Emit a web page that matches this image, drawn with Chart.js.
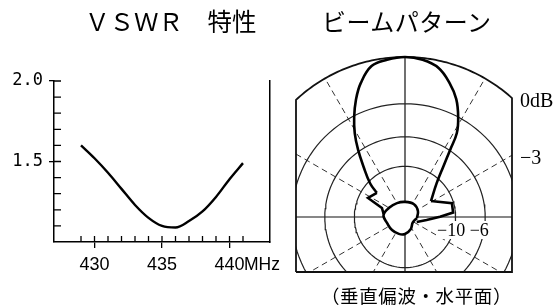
<!DOCTYPE html>
<html>
<head>
<meta charset="utf-8">
<script src="https://cdn.jsdelivr.net/npm/chart.js@4.4.1/dist/chart.umd.min.js"></script>
<style>
  body { margin: 0; background: #fff; width: 558px; height: 307px; overflow: hidden; position: relative; color: #000; }
  canvas { position: absolute; top: 0; }
  .txt { position: absolute; white-space: nowrap; line-height: 1; z-index: 2; }
  .jp { font-family: "Noto Sans CJK JP", sans-serif; }
  .num { font-family: "Liberation Serif", serif; }
</style>
</head>
<body>
<div class="txt jp" style="left:85px; top:9px; font-size:24.5px;">ＶＳＷＲ　特性</div>
<div class="txt jp" style="left:322px; top:9px; font-size:24px; letter-spacing:0.5px;">ビームパターン</div>
<div class="txt jp" style="left:321px; top:286px; font-size:18.5px; letter-spacing:0.6px;">（垂直偏波・水平面）</div>
<div class="txt" style="left:244px; top:256px; font-size:17.5px; font-family:'Liberation Sans', sans-serif;">MHz</div>
<div class="txt num" style="left:520px; top:90px; font-size:20px;">0dB</div>
<div class="txt num" style="left:520px; top:147px; font-size:20px;">−3</div>
<div class="txt num" style="left:436px; top:221px; font-size:18px; background:#fff; padding:0 1px;">−10 −6</div>

<canvas id="vswrChart" width="280" height="307" style="left:0"></canvas>
<canvas id="beamChart" width="278" height="307" style="left:280px"></canvas>

<script>
// VSWR curve
const freqs = [429, 430, 431, 432, 433, 434, 435, 436, 437, 438, 439, 440, 441];
const vswr = [1.60, 1.52, 1.43, 1.33, 1.23, 1.15, 1.10, 1.09, 1.13, 1.19, 1.28, 1.39, 1.49];
const freqLabels = [430, 435, 440];
const vswrLabels = [1.5, 2.0];
const freqMinor = [429, 430, 431, 432, 433, 434, 435, 436, 437, 438, 439, 440, 441];
const vswrMinor = [1.1, 1.2, 1.3, 1.4, 1.5, 1.6, 1.7, 1.8, 1.9, 2.0];

// beam pattern: angle in degrees (0 = front, clockwise), level in dB
const lobeAngle = [-49.4, -46.1, -39.5, -34.9, -31.0, -27.0, -22.7, -18.3, -12.5, -6.5, 0, 6.4, 12.7, 18.5, 23.5, 28.0, 31.7, 33.9, 37.3, 43.2, 58.4];
const lobeDb = [-12.7, -10.4, -7.8, -5.8, -4.3, -3.1, -2.0, -1.1, -0.3, -0.1, 0, -0.1, -0.4, -1.1, -1.9, -3.0, -4.2, -5.9, -8.1, -10.8, -14.4];
const leftSpikeAngle = [-82, -68.6, -62.8, -49.4];
const leftSpikeDb = [-17.4, -16.2, -11.7, -12.7];
const rightSpikeAngle = [58.4, 73.6, 84.7, 89.5, 97.9, 113];
const rightSpikeDb = [-14.4, -10.3, -10.4, -13.2, -17.3, -22.0];
const backAngle = [95, 125, 155, 180, -160, -135, -110, -85, -60, -30, 0, 35, 65, 95];
const backDb = [-22.5, -24.5, -21.5, -19.5, -19.0, -18.8, -18.6, -17.4, -18.8, -20.0, -20.5, -20.2, -21.0, -22.5];
const ringDb = [-3, -6, -10];
const spokeAngle = [0, 30, 60, 90, 120, 150, 180, 210, 240, 270, 300, 330];

Chart.defaults.color = '#000';

const innerTicks = {
  id: 'innerTicks',
  afterDraw(chart) {
    const { ctx, chartArea, scales: { x, y } } = chart;
    ctx.save();
    ctx.strokeStyle = '#000';
    ctx.lineWidth = 1.3;
    ctx.beginPath();
    freqMinor.forEach(v => {
      const px = x.getPixelForValue(v);
      ctx.moveTo(px, chartArea.bottom);
      ctx.lineTo(px, chartArea.bottom - 6);
    });
    vswrMinor.forEach(v => {
      const py = y.getPixelForValue(v);
      ctx.moveTo(chartArea.left, py);
      ctx.lineTo(chartArea.left + 7, py);
    });
    ctx.stroke();
    ctx.restore();
  }
};

const vswrCanvas = document.getElementById("vswrChart").getContext("2d");
const vswrChart = new Chart(vswrCanvas, {
  type: "line",
  data: {
    datasets: [{
      data: freqs.map((f, i) => ({ x: f, y: vswr[i] })),
      borderColor: "#000",
      borderWidth: 2.4,
      pointRadius: 0,
      cubicInterpolationMode: "monotone",
    }],
  },
  options: {
    responsive: false,
    animation: false,
    events: [],
    layout: { padding: { left: 6.3, right: 10, top: 81, bottom: 24 } },
    plugins: { legend: { display: false }, tooltip: { enabled: false } },
    scales: {
      x: {
        type: "linear",
        min: 427,
        max: 443,
        afterBuildTicks: (axis) => { axis.ticks = freqLabels.map(v => ({ value: v })); },
        grid: { drawOnChartArea: false, tickLength: 6, color: "#000", lineWidth: 1.3 },
        border: { color: "#000", width: 1.5 },
        ticks: { padding: 6.7, maxRotation: 0, autoSkip: false, font: { family: "Liberation Sans", size: 18 } },
      },
      y: {
        min: 1,
        max: 2,
        afterBuildTicks: (axis) => { axis.ticks = vswrLabels.map(v => ({ value: v })); },
        grid: { drawOnChartArea: false, tickLength: 5, color: "#000", lineWidth: 1.3 },
        border: { color: "#000", width: 1.5 },
        ticks: { padding: 6, font: { family: "DejaVu Sans Mono", size: 17 }, callback: (v) => Number(v).toFixed(1) },
      },
      yRight: {
        position: "right",
        min: 1,
        max: 2,
        grid: { drawOnChartArea: false, drawTicks: false },
        ticks: { display: false },
        border: { color: "#000", width: 1.5 },
      },
    },
  },
  plugins: [innerTicks],
});

// polar (angle, dB) -> plane, radius linear in field strength
function toXY(deg, db) {
  const r = Math.pow(10, db / 20);
  const a = deg * Math.PI / 180;
  return { x: r * Math.sin(a), y: r * Math.cos(a) };
}
const series = (angles, levels) => angles.map((a, i) => toXY(a, levels[i]));

const xMin = -0.68125, xMax = 0.66875, yMin = -0.34375, yMax = 1;

const ringSets = ringDb.map(db => {
  const pts = [];
  for (let a = 0; a <= 360; a += 3) pts.push(toXY(a, db));
  return { data: pts, borderColor: "#222", borderWidth: 1.2, clip: 0 };
});

const spokeSets = spokeAngle.map(a => ({
  data: [{ x: 0, y: 0 }, toXY(a, 0)],
  borderColor: a % 90 === 0 ? "#111" : "#333",
  borderWidth: a % 90 === 0 ? 1.2 : 1,
  borderDash: a % 90 === 0 ? [] : [6, 4],
  clip: 0,
}));

// outline: 0 dB arc on top, straight sides and bottom
const frame = [{ x: xMin, y: yMin }];
const aL = Math.asin(xMin) * 180 / Math.PI, aR = Math.asin(xMax) * 180 / Math.PI;
for (let a = aL; a < aR; a += 1) frame.push(toXY(a, 0));
frame.push(toXY(aR, 0), { x: xMax, y: yMin }, { x: xMin, y: yMin });

const beamCanvas = document.getElementById("beamChart").getContext("2d");
const beamChart = new Chart(beamCanvas, {
  type: "scatter",
  data: {
    datasets: [
      { data: series(lobeAngle, lobeDb), borderColor: "#000", borderWidth: 2.6, tension: 0.4, clip: false },
      { data: series(leftSpikeAngle, leftSpikeDb), borderColor: "#000", borderWidth: 2.6, tension: 0, clip: false },
      { data: series(rightSpikeAngle, rightSpikeDb), borderColor: "#000", borderWidth: 2.6, tension: 0, clip: false },
      { data: series(backAngle, backDb), borderColor: "#000", borderWidth: 2.6, tension: 0.4, clip: false, fill: "shape", backgroundColor: "#fff" },
      { data: frame, borderColor: "#111", borderWidth: 1.8, tension: 0, clip: false },
      ...ringSets,
      ...spokeSets,
    ].map(d => ({ fill: false, ...d, showLine: true, pointRadius: 0 })),
  },
  options: {
    responsive: false,
    animation: false,
    events: [],
    layout: { padding: { left: 16, right: 46, top: 57, bottom: 35 } },
    plugins: { legend: { display: false }, tooltip: { enabled: false } },
    scales: {
      x: { type: "linear", min: xMin, max: xMax, display: false },
      y: { type: "linear", min: yMin, max: yMax, display: false },
    },
  },
});
</script>
</body>
</html>
